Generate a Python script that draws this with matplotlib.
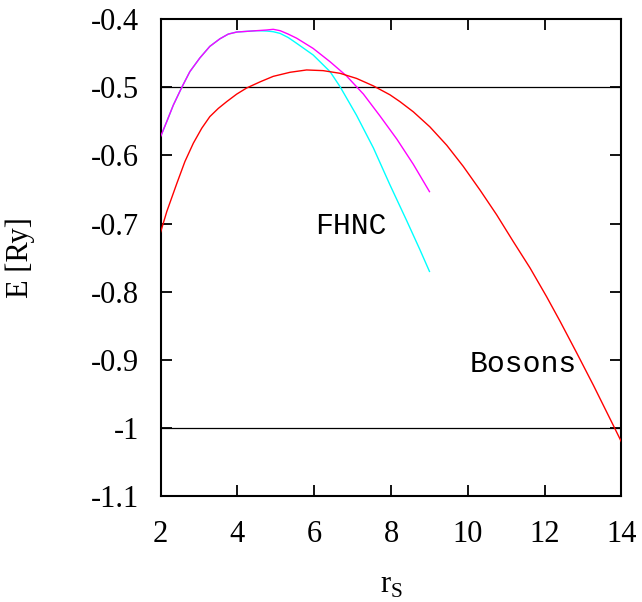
import numpy as np
import matplotlib
matplotlib.use("Agg")
import matplotlib.pyplot as plt

plt.rcParams['font.family'] = ['Liberation Serif', 'DejaVu Serif']
plt.rcParams['axes.unicode_minus'] = False
plt.rcParams['mathtext.fontset'] = 'custom'
plt.rcParams['mathtext.rm'] = 'Liberation Serif'

# bosons (red)
rs_bos = [2.0, 2.16, 2.42, 2.63, 2.85, 3.07, 3.28, 3.5, 3.72, 3.98, 4.24, 4.59,
          4.93, 5.37, 5.8, 6.23, 6.67, 7.1, 7.54, 7.97, 8.23, 8.58, 9.01, 9.45,
          9.88, 10.32, 10.75, 11.18, 11.62, 12.05, 12.4, 12.83, 13.27, 13.79,
          14.0]
e_bos = [-0.712, -0.682, -0.641, -0.609, -0.582, -0.560, -0.543, -0.531, -0.521,
         -0.510, -0.501, -0.492, -0.484, -0.478, -0.4746, -0.4756, -0.4795,
         -0.487, -0.498, -0.511, -0.521, -0.536, -0.558, -0.585, -0.616, -0.651,
         -0.687, -0.726, -0.765, -0.807, -0.843, -0.889, -0.937, -0.996, -1.020]

# FHNC upper branch (magenta)
rs_mag = [2.0, 2.16, 2.33, 2.55, 2.76, 3.02, 3.28, 3.54, 3.76, 3.98, 4.24, 4.5,
          4.76, 4.93, 5.11, 5.32, 5.54, 5.97, 6.41, 6.84, 7.28, 7.71, 8.15, 8.58,
          9.0]
e_mag = [-0.572, -0.550, -0.526, -0.500, -0.477, -0.457, -0.440, -0.429, -0.422,
         -0.419, -0.418, -0.417, -0.416, -0.415, -0.417, -0.422, -0.428, -0.443,
         -0.4625, -0.4834, -0.510, -0.542, -0.576, -0.613, -0.653]

# FHNC lower branch (cyan)
rs_cyan = [2.0, 2.16, 2.33, 2.55, 2.76, 3.02, 3.28, 3.54, 3.76, 3.98, 4.24, 4.5,
           4.76, 4.93, 5.11, 5.32, 5.54, 5.97, 6.41, 6.67, 7.1, 7.54, 7.97, 8.41,
           8.75, 9.0]
e_cyan = [-0.572, -0.550, -0.526, -0.500, -0.477, -0.457, -0.440, -0.429, -0.422,
          -0.419, -0.418, -0.417, -0.4175, -0.4185, -0.421, -0.427, -0.4355,
          -0.4526, -0.477, -0.499, -0.541, -0.589, -0.643, -0.696, -0.738,
          -0.770]

hlines = [-0.5, -1.0]

fig = plt.figure(figsize=(6.42, 6.02), dpi=100)
ax = fig.add_axes([0.2503, 0.1753, 0.968 - 0.2503, 0.9683 - 0.1753])

for h in hlines:
    ax.axhline(h, color='black', lw=0.9, zorder=1)

ax.plot(rs_cyan, e_cyan, color='#00ffff', lw=1.0, zorder=2)
ax.plot(rs_mag, e_mag, color='#ff00ff', lw=1.0, zorder=3)
ax.plot(rs_bos, e_bos, color='#ff0000', lw=1.0, zorder=4)

ax.text(6.96, -0.7156, 'FHNC', family='Liberation Mono', fontsize=21.5,
        ha='center', va='baseline')
ax.text(11.43, -0.917, 'Bosons', family='Liberation Mono', fontsize=21.5,
        ha='center', va='baseline')

ax.set_xlim(2, 14)
ax.set_ylim(-1.1, -0.4)
ax.set_xticks(np.arange(2, 15, 2))
ax.set_yticks(np.round(np.arange(-1.1, -0.35, 0.1), 1))
ax.set_yticklabels(['-1.1', '-1', '-0.9', '-0.8', '-0.7', '-0.6', '-0.5', '-0.4'])

ax.tick_params(direction='in', length=8, width=1.3, labelsize=22,
               top=True, right=True)
ax.tick_params(axis='x', pad=17)
ax.tick_params(axis='y', pad=15.5)
for s in ax.spines.values():
    s.set_linewidth(1.5)

ax.set_ylabel('E [Ry]', fontsize=22)
ax.yaxis.set_label_coords(-0.273, 0.5)
ax.set_xlabel(r'r$_{\mathrm{S}}$', fontsize=22)
ax.xaxis.set_label_coords(0.5, -0.157)

fig.savefig('out.png', dpi=100)
